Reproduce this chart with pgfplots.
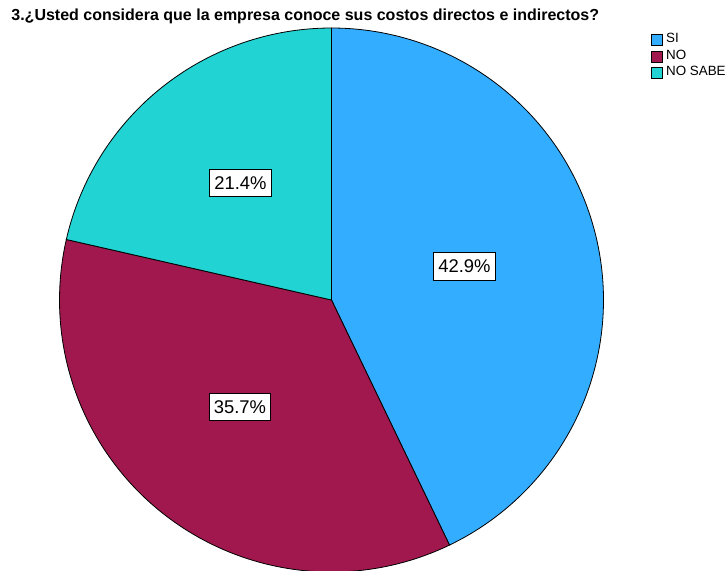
\documentclass[border=0pt]{standalone}
\usepackage{pgfplots}
\pgfplotsset{compat=1.18}
\usepackage{fontspec}
\setmainfont{Liberation Sans}
\definecolor{csi}{RGB}{51,173,255}
\definecolor{cno}{RGB}{160,24,77}
\definecolor{cns}{RGB}{34,211,211}
% counts: SI 6, NO 5, NO SABE 3 (n = 14)
\def\nSI{6}\def\nNO{5}\def\nNS{3}
\begin{document}
\begin{tikzpicture}
\pgfmathsetmacro{\tot}{\nSI+\nNO+\nNS}
\pgfmathsetmacro{\aA}{360*\nSI/\tot}
\pgfmathsetmacro{\aB}{\aA+360*\nNO/\tot}
\begin{axis}[hide axis, scale only axis, width=364pt, height=285.5pt,
  xmin=0, xmax=728, ymin=0, ymax=571, y dir=reverse, clip=false,
  samples=150, variable=\t,
  legend cell align=left,
  legend style={at={(axis cs:651,31.5)}, anchor=north west, draw=none, fill=none,
    font=\fontsize{6.7}{7}\selectfont, inner sep=0pt, row sep=0pt, column sep=0pt,
    nodes={inner ysep=0pt, inner xsep=1.7pt, text height=5.4pt, text depth=2.85pt}},
  legend image code/.code={\draw[#1, draw=black, line width=0.35pt] (0pt,-2.75pt) rectangle (5.3pt,2.75pt);},
]
\addplot[fill=csi, draw=black, line width=0.4pt, domain=0:\aA] ({331.5+272*sin(\t)},{300-272*cos(\t)}) -- (331.5,300) -- cycle;
\addlegendentry{SI}
\addplot[fill=cno, draw=black, line width=0.4pt, domain=\aA:\aB] ({331.5+272*sin(\t)},{300-272*cos(\t)}) -- (331.5,300) -- cycle;
\addlegendentry{NO}
\addplot[fill=cns, draw=black, line width=0.4pt, domain=\aB:360] ({331.5+272*sin(\t)},{300-272*cos(\t)}) -- (331.5,300) -- cycle;
\addlegendentry{NO SABE}
\node[anchor=base west, font=\bfseries\fontsize{8.0}{9}\selectfont, inner sep=0pt] at (axis cs:11,21) {3.¿Usted considera que la empresa conoce sus costos directos e indirectos?};
\tikzset{lbl/.style={draw=black, line width=0.4pt, fill=white, inner xsep=2.3pt, minimum height=13.8pt, font=\fontsize{9.2}{10}\selectfont}}
\node[lbl] at (axis cs:464.5,266.5) {42.9\%};
\node[lbl] at (axis cs:240,407) {35.7\%};
\node[lbl] at (axis cs:240.5,183) {21.4\%};
\end{axis}
\pgfresetboundingbox
\useasboundingbox (0,0) rectangle (364pt,285.5pt);
\end{tikzpicture}
\end{document}
